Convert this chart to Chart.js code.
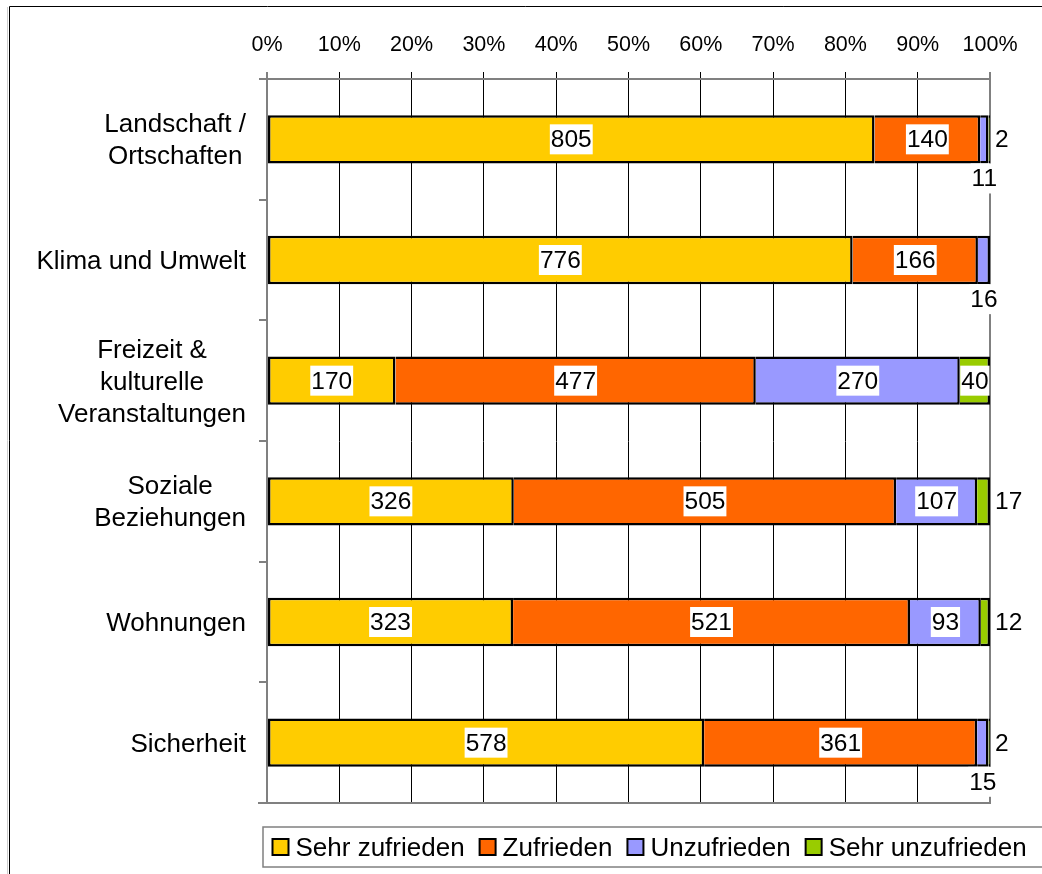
<!DOCTYPE html>
<html>
<head>
<meta charset="utf-8">
<title>Zufriedenheit</title>
<script src="https://cdn.jsdelivr.net/npm/chart.js@4.4.1/dist/chart.umd.min.js"></script>
<style>
  html, body { margin: 0; padding: 0; background: #fff; }
  #wrap { width: 1042px; height: 874px; }
</style>
</head>
<body>
<div id="wrap"><canvas id="chart" width="1042" height="874"></canvas></div>
<script>
// ---- Daten ----
const kategorien = [
  ["Landschaft /", "Ortschaften"],
  ["Klima und Umwelt"],
  ["Freizeit &", "kulturelle", "Veranstaltungen"],
  ["Soziale", "Beziehungen"],
  ["Wohnungen"],
  ["Sicherheit"]
];

// Anzahl Nennungen je Kategorie
const sehrZufrieden   = [805, 776, 170, 326, 323, 578];
const zufrieden       = [140, 166, 477, 505, 521, 361];
const unzufrieden     = [ 11,  16, 270, 107,  93,  15];
const sehrUnzufrieden = [  2,   0,  40,  17,  12,   2];

const serienNamen = ["Sehr zufrieden", "Zufrieden", "Unzufrieden", "Sehr unzufrieden"];
const farben = ["#FFCC00", "#FF6600", "#9999FF", "#99CC00"];
const prozentTicks = [0, 10, 20, 30, 40, 50, 60, 70, 80, 90, 100];

const FONT = '"Liberation Sans", Arial, sans-serif';
const serien = [sehrZufrieden, zufrieden, unzufrieden, sehrUnzufrieden];
const summen = kategorien.map((_, j) => serien.reduce((s, r) => s + r[j], 0));

// ---- Rahmen, Hintergrund ----
const rahmen = {
  id: 'rahmen',
  beforeDraw(chart) {
    const ctx = chart.ctx;
    ctx.save();
    ctx.fillStyle = '#fff';
    ctx.fillRect(0, 0, chart.width, chart.height);
    ctx.strokeStyle = '#ccc';
    ctx.lineWidth = 1;
    ctx.beginPath();
    ctx.moveTo(7.5, 7); ctx.lineTo(7.5, chart.height);
    ctx.stroke();
    ctx.strokeStyle = '#000';
    ctx.beginPath();
    ctx.moveTo(9.5, chart.height); ctx.lineTo(9.5, 6.5); ctx.lineTo(chart.width, 6.5);
    ctx.stroke();
    ctx.restore();
  },
  afterDraw(chart) {
    // untere Linie der Zeichenfläche
    const ctx = chart.ctx, a = chart.chartArea;
    ctx.save();
    ctx.strokeStyle = '#808080';
    ctx.lineWidth = 2;
    ctx.beginPath();
    ctx.moveTo(a.left - 9, a.bottom); ctx.lineTo(a.right + 1, a.bottom);
    ctx.stroke();
    ctx.restore();
  }
};

// ---- Kategoriebeschriftung: Block rechtsbündig, Zeilen zentriert ----
const kategorieLabels = {
  id: 'kategorieLabels',
  afterDraw(chart) {
    const ctx = chart.ctx, ys = chart.scales.y, a = chart.chartArea;
    ctx.save();
    ctx.font = '26px ' + FONT;
    ctx.fillStyle = '#000';
    ctx.textAlign = 'center';
    ctx.textBaseline = 'alphabetic';
    const lh = 32;
    kategorien.forEach((zeilen, j) => {
      const breite = Math.max(...zeilen.map(z => ctx.measureText(z).width));
      const mx = a.left - 21 - breite / 2;
      const my = ys.getPixelForValue(j);
      zeilen.forEach((z, k) => {
        ctx.fillText(z, mx, my + (k - (zeilen.length - 1) / 2) * lh + 9);
      });
    });
    ctx.restore();
  }
};

// ---- Werte mit weissem Hintergrund ----
const wertLabels = {
  id: 'wertLabels',
  afterDatasetsDraw(chart) {
    const ctx = chart.ctx;
    ctx.save();
    ctx.font = '24.5px ' + FONT;
    ctx.textAlign = 'center';
    ctx.textBaseline = 'alphabetic';
    chart.data.datasets.forEach((ds, i) => {
      const meta = chart.getDatasetMeta(i);
      meta.data.forEach((bar, j) => {
        const n = serien[i][j];
        if (!n) return;
        const txt = String(n);
        const w = ctx.measureText(txt).width;
        const l = Math.min(bar.x, bar.base), r = Math.max(bar.x, bar.base);
        let cx, cy;
        if (w <= r - l) {
          cx = (l + r) / 2; cy = bar.y;
        } else if (i === 2) {
          // unter dem Balken
          cx = (l + r) / 2; cy = bar.y + bar.height / 2 + 15;
        } else {
          // rechts neben dem Balken
          cx = r + 5 + w / 2; cy = bar.y;
        }
        ctx.fillStyle = '#fff';
        ctx.fillRect(cx - w / 2 - 1, cy - 15, w + 2, 30);
        ctx.fillStyle = '#000';
        ctx.fillText(txt, cx, cy + 8);
      });
    });
    ctx.restore();
  }
};

// ---- Legende im Kasten unten ----
const legende = {
  id: 'legende',
  afterDraw(chart) {
    const ctx = chart.ctx, a = chart.chartArea;
    const top = a.bottom + 24, h = 40;
    const left = a.left - 4;
    ctx.save();
    ctx.strokeStyle = '#808080';
    ctx.lineWidth = 1.5;
    ctx.strokeRect(left, top, chart.width + 10 - left, h);
    ctx.font = '26px ' + FONT;
    ctx.textBaseline = 'alphabetic';
    ctx.textAlign = 'left';
    let x = left + 9.5;
    const cy = top + h / 2;
    chart.data.datasets.forEach(ds => {
      ctx.fillStyle = ds.backgroundColor;
      ctx.fillRect(x, cy - 8, 16, 16);
      ctx.strokeStyle = '#000';
      ctx.lineWidth = 2;
      ctx.strokeRect(x, cy - 8, 16, 16);
      x += 23;
      ctx.fillStyle = '#000';
      ctx.fillText(ds.label, x, cy + 9);
      x += ctx.measureText(ds.label).width + 15;
    });
    ctx.restore();
  }
};

const datasets = serien.map((werte, i) => ({
  label: serienNamen[i],
  data: werte.map((v, j) => v / summen[j] * 100),
  backgroundColor: farben[i],
  borderColor: '#000',
  // jedes Segment zeichnet nur seine rechte Kante, das erste zusätzlich die linke
  borderWidth: { top: 2.5, bottom: 2.5, left: i === 0 ? 2.5 : 0, right: 2.5 },
  borderSkipped: false,
  inflateAmount: 0,
  categoryPercentage: 0.4,
  barPercentage: 1
}));

new Chart(document.getElementById('chart'), {
  type: 'bar',
  data: { labels: kategorien.map(z => z.join(' ')), datasets },
  options: {
    indexAxis: 'y',
    responsive: false,
    animation: false,
    layout: { padding: { top: 0, left: 0, right: 52, bottom: 71 } },
    plugins: { legend: { display: false }, tooltip: { enabled: false } },
    scales: {
      x: {
        position: 'top',
        stacked: true,
        min: 0,
        max: 100,
        afterBuildTicks: s => { s.ticks = prozentTicks.map(v => ({ value: v })); },
        afterFit: s => { s.height = 79; },
        grid: {
          color: c => (c.tick && (c.tick.value === 0 || c.tick.value === 100)) ? '#808080' : '#000',
          lineWidth: c => (c.tick && (c.tick.value === 0 || c.tick.value === 100)) ? 2 : 1,
          tickLength: 7
        },
        border: { color: '#808080', width: 2 },
        ticks: {
          color: '#000',
          font: { family: FONT, size: 21.5 },
          padding: 14,
          maxRotation: 0,
          autoSkip: false,
          callback: v => v + '%'
        }
      },
      y: {
        stacked: true,
        afterFit: s => { s.width = 267; },
        grid: { offset: true, drawOnChartArea: false, tickLength: 8, color: '#808080', lineWidth: 2 },
        border: { color: '#808080', width: 2 },
        ticks: { callback: () => '' }
      }
    }
  },
  plugins: [rahmen, kategorieLabels, wertLabels, legende]
});
</script>
</body>
</html>
